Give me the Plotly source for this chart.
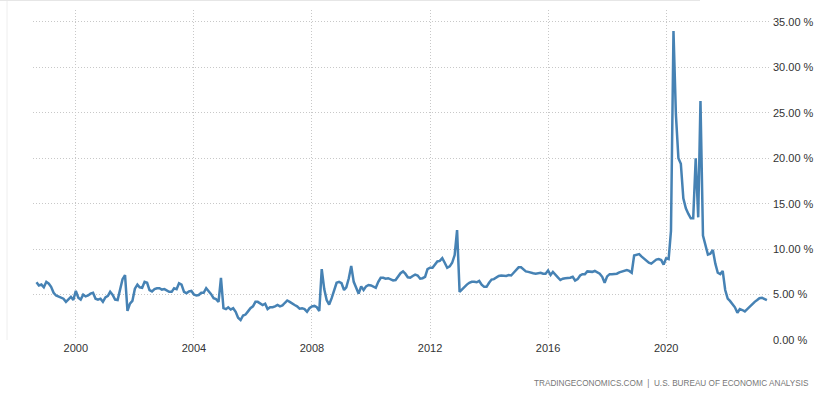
import pandas as pd
import plotly.graph_objects as go

# Monthly personal saving rate (%), Sep 1998 - Jun 2023
v1998 = [6.35, 6.0, 6.1, 5.8]
v1999 = [6.4, 6.2, 5.85, 5.2, 4.9, 4.75, 4.7, 4.55, 4.2, 4.5, 4.75, 4.4]
v2000 = [5.4, 4.65, 4.45, 5.0, 4.8, 4.9, 5.1, 5.2, 4.55, 4.45, 4.55, 4.2]
v2001 = [4.7, 4.85, 5.3, 4.95, 4.45, 4.4, 5.5, 6.7, 7.15, 3.2, 4.0, 4.3]
v2002 = [5.65, 6.1, 5.8, 5.75, 6.4, 6.3, 5.5, 5.35, 5.6, 5.7, 5.7, 5.55]
v2003 = [5.6, 5.45, 5.3, 5.3, 5.7, 5.6, 6.25, 6.1, 5.3, 5.15, 5.35, 5.4]
v2004 = [5.0, 4.9, 4.95, 5.2, 5.2, 5.7, 5.4, 5.05, 4.6, 4.5, 4.2, 6.85]
v2005 = [3.5, 3.4, 3.6, 3.35, 3.5, 3.1, 2.45, 2.2, 2.7, 2.8, 3.15, 3.5]
v2006 = [3.7, 4.2, 4.2, 4.05, 3.85, 4.0, 3.4, 3.6, 3.6, 3.7, 3.85, 3.7]
v2007 = [3.8, 4.1, 4.35, 4.2, 4.0, 3.85, 3.7, 3.45, 3.5, 3.4, 3.1, 3.5]
v2008 = [3.7, 3.75, 3.6, 3.2, 7.8, 5.6, 4.4, 3.9, 4.6, 5.5, 6.3, 6.4]
v2009 = [6.25, 5.5, 5.8, 6.8, 8.15, 6.4, 5.75, 5.1, 5.9, 5.5, 5.9, 6.05]
v2010 = [6.0, 5.9, 5.75, 6.4, 6.85, 6.85, 6.75, 6.8, 6.65, 6.55, 6.6, 7.0]
v2011 = [7.35, 7.55, 7.3, 6.9, 6.85, 7.05, 7.2, 7.1, 6.75, 6.8, 6.95, 7.8]
v2012 = [7.95, 7.95, 8.3, 8.65, 8.7, 9.0, 8.5, 7.95, 8.1, 8.5, 9.35, 12.1]
v2013 = [5.3, 5.6, 5.9, 6.1, 6.3, 6.4, 6.4, 6.35, 6.5, 6.1, 5.85, 5.85]
v2014 = [6.3, 6.65, 6.7, 6.85, 7.05, 7.1, 7.1, 7.05, 7.15, 7.1, 7.4, 7.75]
v2015 = [8.0, 8.0, 7.75, 7.55, 7.5, 7.4, 7.35, 7.3, 7.35, 7.4, 7.3, 7.3]
v2016 = [7.65, 7.15, 7.5, 7.25, 6.9, 6.6, 6.75, 6.8, 6.8, 6.85, 6.95, 6.55]
v2017 = [6.7, 7.1, 7.25, 7.25, 7.55, 7.5, 7.5, 7.6, 7.4, 7.3, 6.95, 6.3]
v2018 = [7.0, 7.25, 7.25, 7.25, 7.3, 7.45, 7.55, 7.6, 7.7, 7.6, 7.4, 9.3]
v2019 = [9.35, 9.45, 9.2, 8.95, 8.7, 8.5, 8.4, 8.6, 8.85, 8.9, 8.8, 8.3]
v2020 = [9.0, 8.9, 12.0, 34.0, 24.8, 20.0, 19.4, 15.6, 14.5, 13.9, 13.4, 13.4]
v2021 = [20.0, 13.5, 26.3, 11.5, 10.3, 9.4, 9.5, 9.9, 8.4, 7.4, 7.25, 7.6]
v2022 = [5.5, 4.55, 4.3, 3.9, 3.6, 3.0, 3.4, 3.3, 3.15, 3.4, 3.7, 4.0]
v2023 = [4.2, 4.4, 4.6, 4.65, 4.5, 4.4]

values = (v1998 + v1999 + v2000 + v2001 + v2002 + v2003 + v2004 + v2005 + v2006
          + v2007 + v2008 + v2009 + v2010 + v2011 + v2012 + v2013 + v2014 + v2015
          + v2016 + v2017 + v2018 + v2019 + v2020 + v2021 + v2022 + v2023)
dates = pd.date_range("1998-09-01", periods=len(values), freq="MS")

y_ticks = [0, 5, 10, 15, 20, 25, 30, 35]
y_tick_labels = [f"{v:.2f} %" for v in y_ticks]
x_tick_years = [2000, 2004, 2008, 2012, 2016, 2020]
source_text = "TRADINGECONOMICS.COM  |  U.S. BUREAU OF ECONOMIC ANALYSIS"

fig = go.Figure()
fig.add_trace(go.Scatter(
    x=dates, y=values, mode="lines",
    line=dict(color="#4682B4", width=2.5),
    hoverinfo="skip", showlegend=False,
))

fig.update_layout(
    width=819, height=399,
    margin=dict(l=33, r=50, t=10, b=59, autoexpand=False),
    paper_bgcolor="white", plot_bgcolor="white",
    font=dict(family="Liberation Sans, Arial, sans-serif", size=11, color="#333333"),
    xaxis=dict(
        type="date",
        range=["1998-07-20", "2023-06-27"],
        tickvals=[pd.Timestamp(f"{y}-01-01") for y in x_tick_years],
        ticktext=[str(y) for y in x_tick_years],
        showgrid=True, gridcolor="#c8c8c8", griddash="1px,2px", gridwidth=1,
        zeroline=False, showline=False, ticks="", automargin=False,
        tickfont=dict(size=11, color="#333333"),
    ),
    yaxis=dict(
        range=[0, 36.32],
        side="right",
        tickvals=y_ticks, ticktext=y_tick_labels,
        showgrid=True, gridcolor="#c8c8c8", griddash="1px,2px", gridwidth=1,
        zeroline=False, showline=False, ticks="", automargin=False,
        ticklabelstandoff=3,
        tickfont=dict(size=11, color="#333333"),
    ),
    annotations=[dict(
        text=source_text, xref="paper", yref="paper",
        x=(811 - 33) / 736, y=(340 - 383) / 330,
        xanchor="right", yanchor="middle", showarrow=False,
        font=dict(size=8.2, color="#777777", family="Liberation Sans, sans-serif"),
    )],
    shapes=[
        dict(type="line", xref="paper", yref="paper",
             x0=(7 - 33) / 736, x1=(7 - 33) / 736, y0=0, y1=(340 - 0) / 330,
             line=dict(color="#eeeeee", width=1)),
        dict(type="line", xref="paper", yref="paper",
             x0=(0 - 33) / 736, x1=(700 - 33) / 736, y0=(340 - 0.5) / 330, y1=(340 - 0.5) / 330,
             line=dict(color="#e6e6e6", width=1)),
    ],
)

fig.write_html(
    "out.html",
    config={"displayModeBar": False},
    post_script="document.body.style.margin='0';document.body.style.overflow='hidden';",
)
